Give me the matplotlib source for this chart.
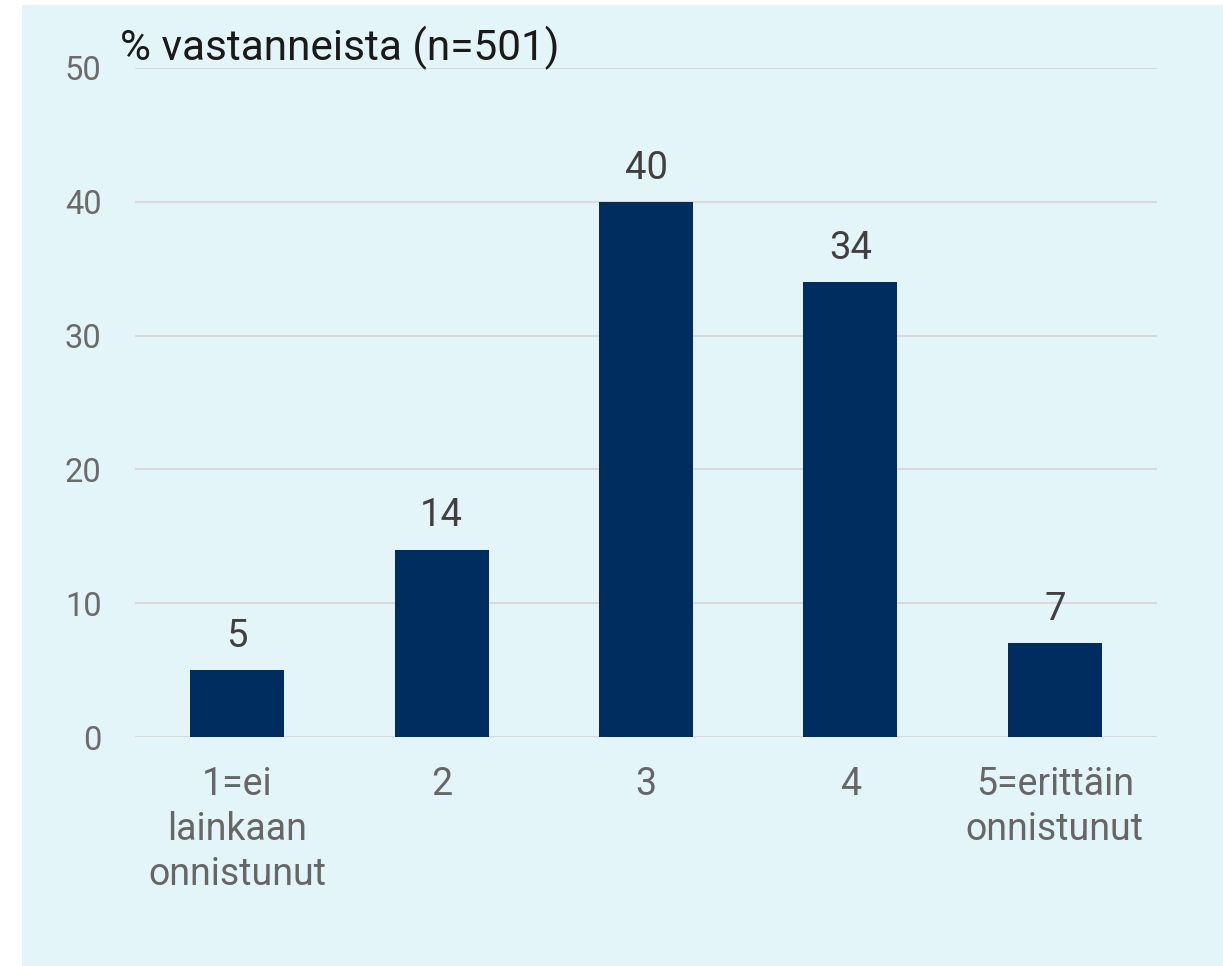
import matplotlib.pyplot as plt
from matplotlib.patches import Rectangle

categories = ['1=ei\nlainkaan\nonnistunut', '2', '3', '4', '5=erittäin\nonnistunut']
values = [5, 14, 40, 34, 7]
yticks = [0, 10, 20, 30, 40, 50]

plt.rcParams['font.family'] = ['Roboto', 'DejaVu Sans']

bg = '#E4F5FA'
fig = plt.figure(figsize=(12.23, 9.66), dpi=100)
fig.patch.set_facecolor('white')
fig.patches.append(Rectangle((22 / 1223, 0), 1, (966 - 5) / 966,
                             transform=fig.transFigure, facecolor=bg,
                             edgecolor='none', zorder=-1))

ax = fig.add_axes([135 / 1223, 1 - 737 / 966, (1157 - 135) / 1223, (737 - 68) / 966])
ax.set_facecolor('none')

x = list(range(len(values)))
bars = ax.bar(x, values, width=0.46, color='#002D5F', zorder=3)
for b, v in zip(bars, values):
    ax.annotate(str(v), (b.get_x() + b.get_width() / 2, v),
                xytext=(0, 11), textcoords='offset points',
                ha='center', va='bottom', fontsize=27.5, color='#404040')

ax.set_xlim(-0.5, len(values) - 0.5)
ax.set_ylim(0, 50)
ax.set_yticks(yticks)
ax.yaxis.grid(True, color='#D9D9D9', linewidth=1.5, zorder=0)
ax.set_axisbelow(True)
ax.set_xticks(x)
ax.set_xticklabels(categories, fontsize=27, color='#666666', linespacing=1.27)
ax.tick_params(axis='x', length=0, pad=21)
ax.tick_params(axis='y', length=0, pad=24, labelsize=23.5, labelcolor='#6B6B6B')
for s in ax.spines.values():
    s.set_visible(False)

fig.text(120 / 1223, 1 - 60 / 966, '% vastanneista (n=501)', fontsize=30.5,
         color='#1A1A1A', ha='left', va='baseline')

fig.savefig('out.png', dpi=100, facecolor='white')
